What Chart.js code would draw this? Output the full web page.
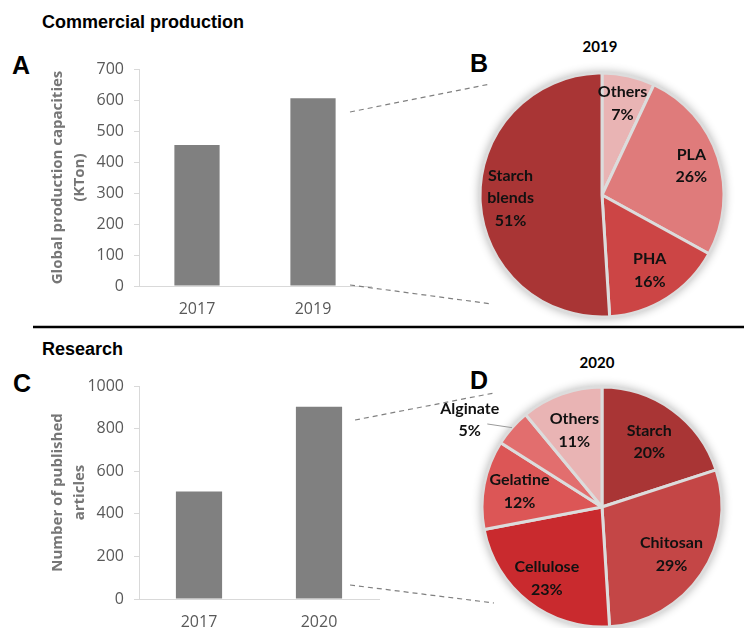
<!DOCTYPE html>
<html>
<head>
<meta charset="utf-8">
<title>Bioplastics: commercial production and research</title>
<script src="https://cdn.jsdelivr.net/npm/chart.js@4.4.1/dist/chart.umd.min.js"></script>
<style>
  html, body { margin: 0; padding: 0; background: #fff; }
  body { width: 744px; height: 628px; overflow: hidden; position: relative; font-family: "Liberation Sans", Arial, sans-serif; }
  canvas { position: absolute; }
  .heading { position: absolute; font-weight: bold; font-size: 18px; line-height: 1; color: #000; white-space: nowrap; }
  .panel { position: absolute; font-weight: bold; font-size: 25px; line-height: 1; color: #000; }
  .year { position: absolute; font-family: Lato, sans-serif; font-weight: bold; font-size: 15px; line-height: 1; transform: translateX(-50%); }
  #deco { position: absolute; left: 0; top: 0; }
</style>
</head>
<body>

<div class="heading" style="left:42px; top:13px;">Commercial production</div>
<div class="heading" style="left:42px; top:340px;">Research</div>
<div class="panel" style="left:12px; top:53px;">A</div>
<div class="panel" style="left:470px; top:51px;">B</div>
<div class="panel" style="left:13px; top:371px;">C</div>
<div class="panel" style="left:470px; top:368px;">D</div>
<div class="year" style="left:600px; top:39px;">2019</div>
<div class="year" style="left:597px; top:355px;">2020</div>

<canvas id="chartA" width="372" height="320" style="left:0; top:0;"></canvas>
<canvas id="chartB" width="360" height="270" style="left:422px; top:60px;"></canvas>
<canvas id="chartC" width="380" height="298" style="left:0; top:330px;"></canvas>
<canvas id="chartD" width="360" height="270" style="left:422px; top:372px;"></canvas>

<svg id="deco" width="744" height="628">
  <line x1="33" y1="327" x2="744" y2="327" stroke="#000" stroke-width="2.5"/>
  <g stroke="#808080" stroke-width="1.2" stroke-dasharray="5,4" fill="none">
    <line x1="350" y1="112" x2="490" y2="84"/>
    <line x1="350" y1="285" x2="492" y2="304"/>
    <line x1="355" y1="420" x2="494" y2="393"/>
    <line x1="350" y1="585" x2="494" y2="603"/>
  </g>
</svg>

<script>
(function () {
  'use strict';

  // --- data ---
  var prodYears = ['2017', '2019'];
  var prodCapacity = [455, 606];          // KTon
  var prodTicks = [0, 100, 200, 300, 400, 500, 600, 700];

  var pubYears = ['2017', '2020'];
  var pubArticles = [505, 902];
  var pubTicks = [0, 200, 400, 600, 800, 1000];

  var materials2019 = ['Others', 'PLA', 'PHA', 'Starch blends'];
  var shares2019 = [7, 26, 16, 51];

  var materials2020 = ['Starch', 'Chitosan', 'Cellulose', 'Gelatine', 'Alginate', 'Others'];
  var shares2020 = [20, 29, 23, 12, 5, 11];

  // --- colours ---
  var MATERIAL_COLORS = {
    'Starch blends': '#a93535', 'Starch': '#a93535',
    'PHA': '#cc4545', 'PLA': '#df7b7b',
    'Chitosan': '#c44646', 'Cellulose': '#c92a2e',
    'Gelatine': '#dc5656', 'Alginate': '#e26e6e',
    'Others': '#e9b4b4'
  };

  Chart.defaults.font.family = '"Open Sans", sans-serif';

  // --- bar charts ---

  function barChart(id, labels, values, ticks, title, box) {
    return new Chart(document.getElementById(id), {
      type: 'bar',
      data: {
        labels: labels,
        datasets: [{
          data: values,
          backgroundColor: '#808080',
          categoryPercentage: 1,
          barPercentage: box.bar
        }]
      },
      options: {
        responsive: false,
        animation: false,
        layout: { padding: box.pad },
        plugins: { legend: { display: false }, tooltip: { enabled: false } },
        scales: {
          x: {
            grid: { display: false, drawTicks: false },
            border: { color: '#d9d9d9', width: 1 },
            ticks: { color: '#595959', font: { size: 16 }, padding: 14 },
            afterFit: function (s) { s.height = box.xh; }
          },
          y: {
            min: ticks[0],
            max: ticks[ticks.length - 1],
            afterBuildTicks: function (s) {
              s.ticks = ticks.map(function (v) { return { value: v }; });
            },
            grid: { drawOnChartArea: false, color: '#d9d9d9', tickLength: 5 },
            border: { color: '#d9d9d9', width: 1 },
            ticks: {
              color: '#595959',
              font: { size: 16 },
              padding: 10,
              callback: function (v) { return String(v); }
            },
            title: {
              display: true,
              text: title,
              color: '#767676',
              font: { size: 15, weight: 'bold', lineHeight: 1.47 },
              padding: { top: 47, bottom: 0 }
            },
            afterFit: function (s) { s.width = box.yw; }
          }
        }
      }
    });
  }

  // --- pie helpers ---

  var pieShadow = {
    id: 'pieShadow',
    beforeDatasetsDraw: function (chart) {
      var arc = chart.getDatasetMeta(0).data[0];
      if (!arc) return;
      var ctx = chart.ctx;
      ctx.save();
      ctx.shadowColor = 'rgba(0,0,0,0.3)';
      ctx.shadowBlur = 10;
      ctx.fillStyle = '#dcdcdc';
      ctx.beginPath();
      ctx.arc(arc.x, arc.y, arc.outerRadius + 1, 0, Math.PI * 2);
      ctx.fill();
      ctx.restore();
    }
  };

  var sliceLabels = {
    id: 'sliceLabels',
    afterDatasetsDraw: function (chart, args, opts) {
      var ctx = chart.ctx;
      var meta = chart.getDatasetMeta(0);
      var values = chart.data.datasets[0].data;
      var deg = Math.PI / 180;
      ctx.save();
      ctx.font = 'bold 16px Lato, sans-serif';
      ctx.textAlign = 'center';
      ctx.textBaseline = 'middle';
      meta.data.forEach(function (arc, i) {
        var p = arc.getProps(['x', 'y', 'startAngle', 'endAngle', 'outerRadius'], true);
        var mid = (p.startAngle + p.endAngle) / 2;
        var a = mid + (opts.shift[i] || 0) * deg;
        var r = p.outerRadius * opts.radius[i];
        var cx = p.x + Math.cos(a) * r;
        var cy = p.y + Math.sin(a) * r;

        var leader = opts.leader && opts.leader[i];
        if (leader) {
          var la = mid + leader.shift * deg;
          ctx.strokeStyle = '#9a9a9a';
          ctx.lineWidth = 1;
          ctx.beginPath();
          ctx.moveTo(p.x + Math.cos(mid) * p.outerRadius, p.y + Math.sin(mid) * p.outerRadius);
          ctx.lineTo(p.x + Math.cos(la) * p.outerRadius * leader.r, p.y + Math.sin(la) * p.outerRadius * leader.r);
          ctx.stroke();
        }

        var lines = chart.data.labels[i].split(' ').concat([values[i] + '%']);
        var lh = 22.5;
        var y0 = cy - (lines.length - 1) * lh / 2;
        ctx.fillStyle = '#111';
        lines.forEach(function (t, k) { ctx.fillText(t, cx, y0 + k * lh); });
      });
      ctx.restore();
    }
  };

  function pieChart(id, labels, values, radius, labelOpts) {
    return new Chart(document.getElementById(id), {
      type: 'pie',
      data: {
        labels: labels,
        datasets: [{
          data: values,
          radius: radius,
          backgroundColor: labels.map(function (l) { return MATERIAL_COLORS[l]; }),
          borderColor: '#dcdcdc',
          borderWidth: 3,
          hoverOffset: 0
        }]
      },
      options: {
        responsive: false,
        animation: false,
        plugins: {
          legend: { display: false },
          tooltip: { enabled: false },
          sliceLabels: labelOpts
        }
      },
      plugins: [pieShadow, sliceLabels]
    });
  }

  // --- build ---

  barChart('chartA', prodYears, prodCapacity, prodTicks,
    ['Global production capacities', '(KTon)'],
    { pad: { top: 69, right: 1, bottom: 4, left: 0 }, xh: 30, yw: 139, bar: 0.39 });

  barChart('chartC', pubYears, pubArticles, pubTicks,
    ['Number of published', 'articles'],
    { pad: { top: 56, right: 1, bottom: 0, left: 0 }, xh: 29, yw: 139, bar: 0.385 });

  pieChart('chartB', materials2019, shares2019, 122, {
    radius: [0.77, 0.77, 0.73, 0.75],
    shift: [0, 0, 0, 0]
  });

  pieChart('chartD', materials2020, shares2020, 120, {
    radius: [0.67, 0.70, 0.75, 0.70, 1.32, 0.68],
    shift: [0, 0, 0, 0, -8, 0],
    leader: [null, null, null, null, { r: 1.18, shift: -5.5 }, null]
  });
})();
</script>
</body>
</html>
